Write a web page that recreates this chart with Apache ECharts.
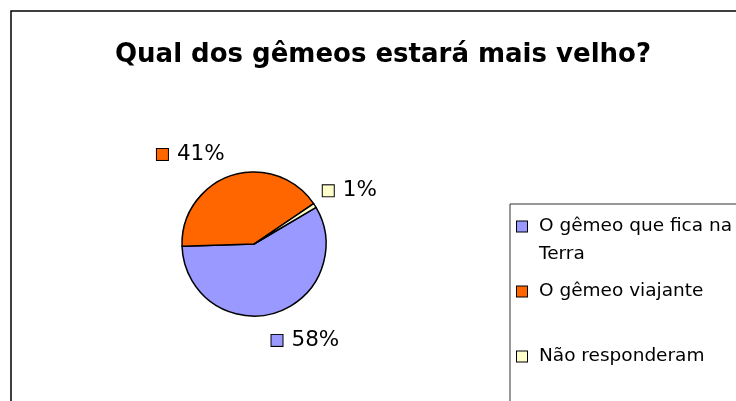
<!DOCTYPE html>
<html>
<head>
<meta charset="utf-8">
<script src="https://cdn.jsdelivr.net/npm/echarts@6/dist/echarts.min.js"></script>
<style>
  html, body { margin: 0; padding: 0; background: #fff; }
  #chart { width: 736px; height: 401px; }
</style>
</head>
<body>
<div id="chart"></div>
<script>
// Survey answers: which twin will be older?
const categories = ['O gêmeo que fica na Terra', 'O gêmeo viajante', 'Não responderam'];
// Legend lines as they wrap inside the legend box
const legendLines = [['O gêmeo que fica na', 'Terra'], ['O gêmeo viajante'], ['Não responderam']];
const shares = [58, 41, 1];
const colors = ['#9999FF', '#FF6600', '#FFFFCC'];
const chartTitle = 'Qual dos gêmeos estará mais velho?';

const FONT = 'DejaVu Sans';

// small nudges applied to the default outside label spots
const labelNudge = [[-13, 8], [4, -2], [-14, -4]];

const keyRich = {};
colors.forEach((c, i) => {
  keyRich['k' + i] = { width: 10, height: 10, backgroundColor: c, borderColor: '#000', borderWidth: 1 };
  keyRich['p' + i] = { width: 11, height: 11, backgroundColor: c, borderColor: '#000', borderWidth: 1 };
});

const chart = echarts.init(document.getElementById('chart'), null, { renderer: 'canvas' });

chart.setOption({
  backgroundColor: '#fff',
  animation: false,
  title: {
    text: chartTitle,
    left: 378,
    textAlign: 'center',
    top: 37,
    textStyle: { fontFamily: FONT, fontWeight: 'bold', fontSize: 26, color: '#000' }
  },
  graphic: [{
    type: 'rect',
    shape: { x: 11, y: 11, width: 900, height: 600 },
    style: { fill: null, stroke: '#000', lineWidth: 1.5 },
    silent: true,
    z: -1
  }],
  legend: {
    orient: 'vertical',
    left: 510,
    top: 204,
    height: 600,
    padding: [13, 40, 40, 1],
    borderColor: '#333',
    borderWidth: 1,
    itemWidth: 0,
    itemHeight: 0,
    itemGap: 18,
    selectedMode: false,
    data: categories,
    formatter: function (name) {
      const i = categories.indexOf(name);
      const lines = legendLines[i];
      const first = '{k' + i + '|}{gap|}{t|' + lines[0] + '}';
      const second = lines[1] ? '{ind|}{t|' + lines[1] + '}' : '{t| }';
      return first + '\n' + second;
    },
    textStyle: {
      fontFamily: FONT,
      fontSize: 18.5,
      color: '#000',
      rich: Object.assign({
        t: { fontFamily: FONT, fontSize: 18.5, lineHeight: 28, color: '#000' },
        gap: { width: 12 },
        ind: { width: 22 }
      }, keyRich)
    }
  },
  series: [{
    type: 'pie',
    center: [254, 244],
    radius: 72,
    startAngle: 30.5,
    clockwise: true,
    avoidLabelOverlap: false,
    data: categories.map((name, i) => ({
      name: name,
      value: shares[i],
      itemStyle: { color: colors[i] }
    })),
    itemStyle: { borderColor: '#000', borderWidth: 1.5 },
    emphasis: { disabled: true },
    label: {
      show: true,
      position: 'outside',
      formatter: function (p) {
        return '{p' + p.dataIndex + '|}{s|}{v|' + Math.round(p.percent) + '%}';
      },
      rich: Object.assign({
        s: { width: 9 },
        v: { fontFamily: FONT, fontSize: 21.5, color: '#000' }
      }, keyRich)
    },
    labelLine: { show: false, length: 20, length2: 0 },
    labelLayout: function (params) {
      const n = labelNudge[params.dataIndex];
      return { dx: n[0], dy: n[1] };
    }
  }]
});
</script>
</body>
</html>
